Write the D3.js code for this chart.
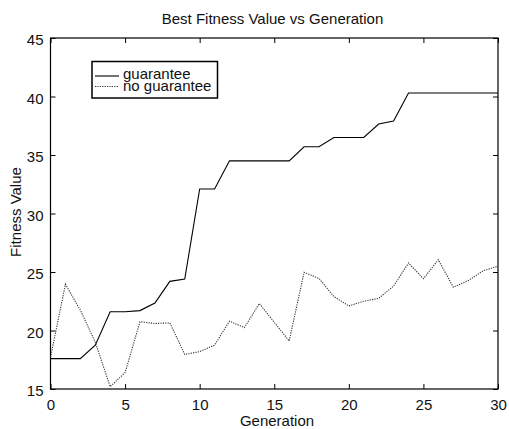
<!DOCTYPE html>
<html>
<head>
<meta charset="utf-8">
<script src="https://cdn.jsdelivr.net/npm/d3@7"></script>
<style>
  html, body { margin: 0; padding: 0; background: #fff; }
  svg { display: block; font-family: Arial, "Liberation Sans", Helvetica, sans-serif; }
</style>
</head>
<body>
<svg id="chart" width="509" height="429"></svg>
<script>
// Generation index 0..30
const generations = d3.range(0, 31);

// Best fitness per generation
const guarantee = [17.6, 17.6, 17.6, 18.75, 21.6, 21.6, 21.7, 22.35, 24.2, 24.4,
  32.1, 32.1, 34.5, 34.5, 34.5, 34.5, 34.5, 35.7, 35.7, 36.5,
  36.5, 36.5, 37.65, 37.9, 40.3, 40.3, 40.3, 40.3, 40.3, 40.3, 40.3];
const noGuarantee = [17.7, 23.95, 21.75, 19.0, 15.2, 16.4, 20.75, 20.6, 20.65, 17.95,
  18.2, 18.75, 20.8, 20.25, 22.3, 20.7, 19.1, 24.97, 24.45, 22.9,
  22.1, 22.5, 22.75, 23.8, 25.77, 24.43, 26.05, 23.7, 24.26, 25.1, 25.5];

const xTicks = [0, 5, 10, 15, 20, 25, 30];
const yTicks = [15, 20, 25, 30, 35, 40, 45];
const seriesNames = ["guarantee", "no guarantee"];

const svg = d3.select("#chart");
const plotL = 50.5, plotR = 498, plotT = 38, plotB = 389;

const x = d3.scaleLinear().domain([0, 30]).range([plotL, plotR]);
const y = d3.scaleLinear().domain([15, 45]).range([plotB, plotT]);

// Box frame
svg.append("rect")
  .attr("x", plotL).attr("y", plotT)
  .attr("width", plotR - plotL).attr("height", plotB - plotT)
  .attr("fill", "none").attr("stroke", "#000").attr("stroke-width", 1.2);

const tickLen = 5;
const fs = "15px";

// Bottom axis with inward ticks
const xAxisB = svg.append("g").attr("transform", `translate(0,${plotB})`)
  .call(d3.axisBottom(x).tickValues(xTicks).tickSize(-tickLen).tickPadding(10).tickFormat(d3.format("d")));
// Top axis ticks only
const xAxisT = svg.append("g").attr("transform", `translate(0,${plotT})`)
  .call(d3.axisTop(x).tickValues(xTicks).tickSize(-tickLen).tickFormat(""));
// Left axis
const yAxisL = svg.append("g").attr("transform", `translate(${plotL},0)`)
  .call(d3.axisLeft(y).tickValues(yTicks).tickSize(-tickLen).tickPadding(7).tickFormat(d3.format("d")));
// Right axis ticks only
const yAxisR = svg.append("g").attr("transform", `translate(${plotR},0)`)
  .call(d3.axisRight(y).tickValues(yTicks).tickSize(-tickLen).tickFormat(""));

[xAxisB, xAxisT, yAxisL, yAxisR].forEach(g => {
  g.select(".domain").remove();
  g.selectAll(".tick line").attr("stroke", "#000").attr("stroke-width", 1);
  g.selectAll(".tick text").attr("fill", "#111").style("font-size", fs).style("font-family", "Arial, 'Liberation Sans', sans-serif");
});
yAxisL.selectAll(".tick text").attr("dy", "0.45em");

// Lines
const line = d3.line().x((d, i) => x(generations[i])).y(d => y(d));

svg.append("path").datum(noGuarantee)
  .attr("d", line).attr("fill", "none")
  .attr("stroke", "#333").attr("stroke-width", 1.1)
  .attr("stroke-dasharray", "1.2,1.2");

svg.append("path").datum(guarantee)
  .attr("d", line).attr("fill", "none")
  .attr("stroke", "#000").attr("stroke-width", 1.1);

// Title and axis labels
svg.append("text").attr("x", 272.5).attr("y", 24)
  .attr("text-anchor", "middle").style("font-size", fs).attr("fill", "#111")
  .text("Best Fitness Value vs Generation");
svg.append("text").attr("x", 277).attr("y", 426)
  .attr("text-anchor", "middle").style("font-size", fs).attr("fill", "#111")
  .text("Generation");
svg.append("text").attr("transform", "translate(20.5,212) rotate(-90)")
  .attr("text-anchor", "middle").style("font-size", fs).attr("fill", "#111")
  .text("Fitness Value");

// Legend
const lg = svg.append("g");
lg.append("rect").attr("x", 92).attr("y", 61.5).attr("width", 125.5).attr("height", 36.5)
  .attr("fill", "#fff").attr("stroke", "#000").attr("stroke-width", 1.5);
const legendRows = [
  { name: seriesNames[0], ly: 76, ty: 79, dash: null, color: "#000" },
  { name: seriesNames[1], ly: 86.5, ty: 90.5, dash: "1.2,1.2", color: "#333" }
];
legendRows.forEach(r => {
  lg.append("line").attr("x1", 95).attr("x2", 119).attr("y1", r.ly).attr("y2", r.ly)
    .attr("stroke", r.color).attr("stroke-width", 1.1)
    .attr("stroke-dasharray", r.dash);
  lg.append("text").attr("x", 123).attr("y", r.ty)
    .style("font-size", fs).attr("fill", "#111").text(r.name);
});
</script>
</body>
</html>
